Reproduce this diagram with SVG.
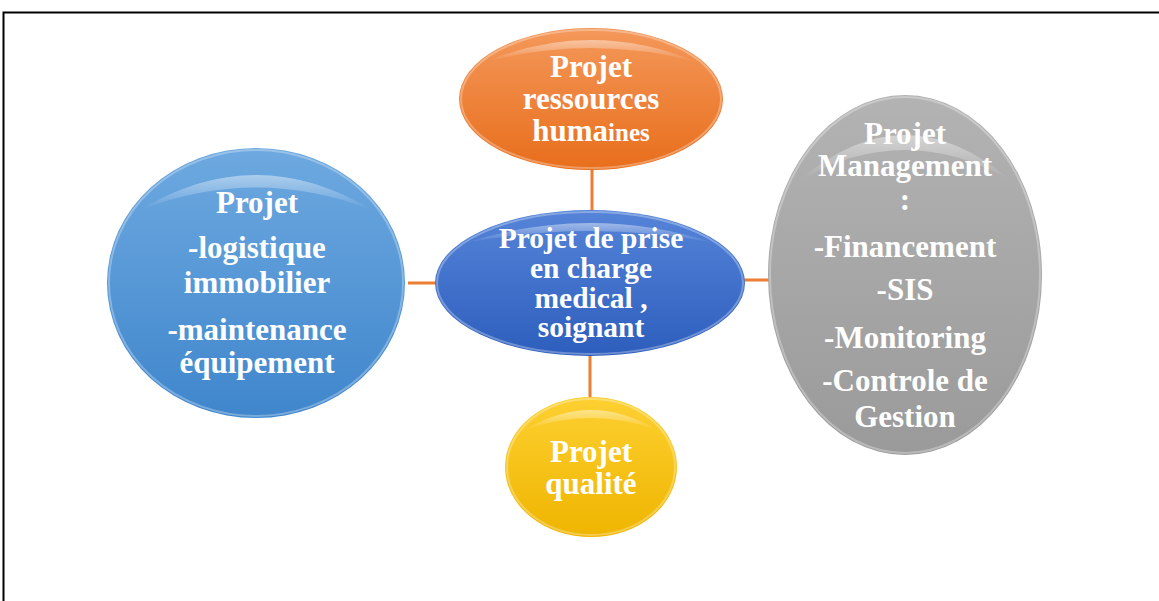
<svg xmlns="http://www.w3.org/2000/svg" width="1159" height="601" viewBox="0 0 1159 601">
<style>
.t{font-family:"Liberation Serif","Times New Roman",serif;font-weight:bold;fill:#fff;text-anchor:middle;font-size:31px}
.c{font-size:29.5px}
.conn{stroke:#ed7d31;stroke-width:3;fill:none}
.rim{fill:none;stroke:#fff;stroke-opacity:0.3;stroke-width:2}
</style>
<defs>
<linearGradient id="gOr" x1="0" y1="0" x2="0" y2="1"><stop offset="0" stop-color="#f4985a"/><stop offset="1" stop-color="#e86e1c"/></linearGradient>
<linearGradient id="gBc" x1="0" y1="0" x2="0" y2="1"><stop offset="0" stop-color="#5584d8"/><stop offset="1" stop-color="#2d5ebd"/></linearGradient>
<linearGradient id="gYe" x1="0" y1="0" x2="0" y2="1"><stop offset="0" stop-color="#fdd031"/><stop offset="1" stop-color="#efb500"/></linearGradient>
<linearGradient id="gGr" x1="0" y1="0" x2="0" y2="1"><stop offset="0" stop-color="#b3b3b3"/><stop offset="1" stop-color="#9a9a9a"/></linearGradient>
<linearGradient id="gBl" x1="0" y1="0" x2="0" y2="1"><stop offset="0" stop-color="#6ea9e0"/><stop offset="1" stop-color="#3f86cc"/></linearGradient>
<linearGradient id="gloss" x1="0" y1="0" x2="0" y2="1"><stop offset="0" stop-color="#fff" stop-opacity="0.45"/><stop offset="1" stop-color="#fff" stop-opacity="0"/></linearGradient>
</defs>
<path d="M3.5,601 V12.5 H1159" fill="none" stroke="#000" stroke-width="2"/>
<g id="connectors">
<line class="conn" x1="592" y1="170" x2="592" y2="212"/>
<line class="conn" x1="590" y1="355" x2="590" y2="398"/>
<line class="conn" x1="408" y1="283" x2="437" y2="283"/>
<line class="conn" x1="743" y1="280" x2="769" y2="280"/>
</g>
<g id="node-rh">
<ellipse cx="591" cy="99" rx="132" ry="71" fill="url(#gOr)"/>
<path d="M485,62 Q591,18 697,62 Q591,34 485,62 Z" fill="url(#gloss)"/>
<ellipse class="rim" cx="591" cy="99" rx="130" ry="69"/>
<text class="t" x="591" y="77">Projet</text>
<text class="t" x="591" y="109">ressources</text>
<text class="t" x="591" y="141">huma<tspan font-size="25">ines</tspan></text>
</g>
<g id="node-center">
<ellipse cx="590" cy="283" rx="155" ry="73" fill="url(#gBc)"/>
<path d="M465,243 Q590,203 715,243 Q590,219 465,243 Z" fill="url(#gloss)"/>
<ellipse class="rim" cx="590" cy="283" rx="153" ry="71"/>
<text class="t c" x="591" y="248">Projet de prise</text>
<text class="t c" x="591" y="278">en charge</text>
<text class="t c" x="591" y="308">medical ,</text>
<text class="t c" x="591" y="337">soignant</text>
</g>
<g id="node-qualite">
<ellipse cx="591" cy="467" rx="86" ry="70" fill="url(#gYe)"/>
<path d="M525,430 Q591,390 657,430 Q591,406 525,430 Z" fill="url(#gloss)"/>
<ellipse class="rim" cx="591" cy="467" rx="84" ry="68"/>
<text class="t" x="591" y="462">Projet</text>
<text class="t" x="591" y="494">qualité</text>
</g>
<g id="node-management">
<ellipse cx="905" cy="275" rx="137" ry="180" fill="url(#gGr)"/>
<path d="M800,180 Q905,90 1010,180 Q905,120 800,180 Z" fill="url(#gloss)"/>
<ellipse class="rim" cx="905" cy="275" rx="135" ry="178"/>
<text class="t" x="905" y="144">Projet</text>
<text class="t" x="905" y="176">Management</text>
<text class="t" x="905" y="210">:</text>
<text class="t" x="905" y="257">-Financement</text>
<text class="t" x="905" y="300">-SIS</text>
<text class="t" x="905" y="348">-Monitoring</text>
<text class="t" x="905" y="391">-Controle de</text>
<text class="t" x="905" y="427">Gestion</text>
</g>
<g id="node-logistique">
<ellipse cx="256" cy="283" rx="149" ry="135" fill="url(#gBl)"/>
<path d="M140,210 Q256,140 372,210 Q256,165 140,210 Z" fill="url(#gloss)"/>
<ellipse class="rim" cx="256" cy="283" rx="147" ry="133"/>
<text class="t" x="257" y="213">Projet</text>
<text class="t" x="257" y="258">-logistique</text>
<text class="t" x="257" y="293">immobilier</text>
<text class="t" x="257" y="340">-maintenance</text>
<text class="t" x="257" y="373">équipement</text>
</g>
</svg>
